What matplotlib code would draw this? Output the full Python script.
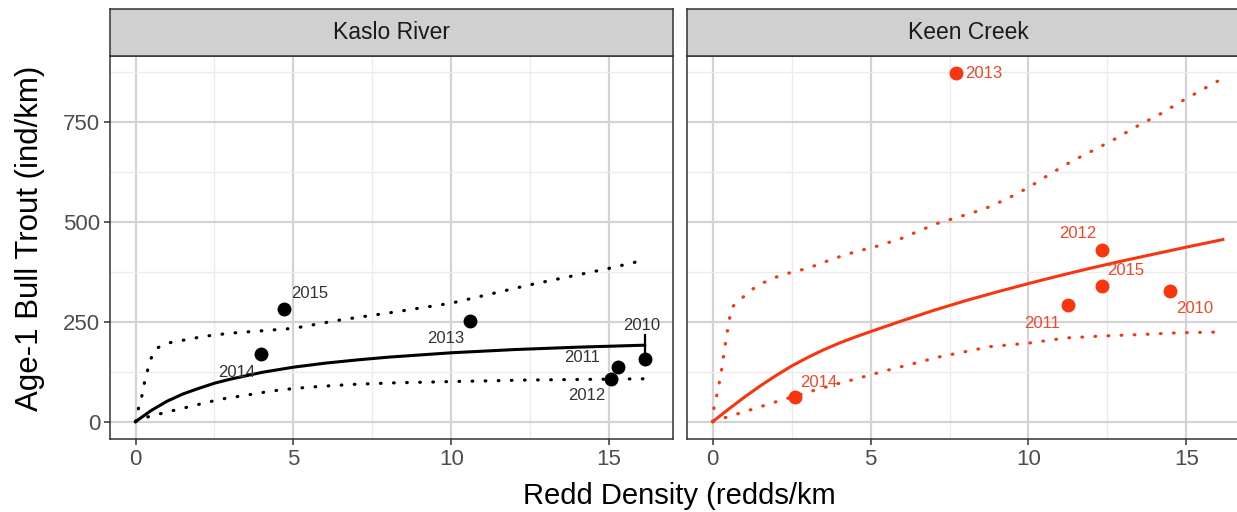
import matplotlib
matplotlib.use("Agg")
import matplotlib.pyplot as plt

plt.rcParams['font.family'] = ['Liberation Sans', 'DejaVu Sans']

# Kaslo River
kaslo_year = ['2010', '2011', '2012', '2013', '2014', '2015']
kaslo_redd = [16.13, 15.28, 15.07, 10.6, 3.96, 4.71]
kaslo_age1 = [156, 137.5, 107, 252, 168, 281]
kaslo_lab_x = [16.04, 14.16, 14.29, 9.82, 3.19, 5.51]
kaslo_lab_y = [241, 161, 64, 207.5, 122.5, 321]

kaslo_fit_x = [0, 0.5, 1, 1.5, 2, 2.5, 3, 4, 5, 6, 7, 8, 10, 12, 14, 16.13]
kaslo_fit_y = [0, 28, 51, 69, 83, 96, 106, 123, 136, 146, 154, 161, 172, 180, 186, 191]
kaslo_up_x = [0, 0.1, 0.21, 0.28, 0.38, 0.49, 0.66, 1.0, 1.42, 2.16, 3.0, 4.16, 5.0, 6.48, 8.05, 10.0, 12.5, 15.0, 16.13]
kaslo_up_y = [0, 36, 67, 97, 128, 158, 183, 196, 202, 213, 221, 228, 233, 254, 272, 296, 342, 383, 404]
kaslo_lo_x = [0, 0.42, 1.16, 1.95, 2.69, 3.51, 4.26, 5.05, 5.84, 7.0, 8.27, 10.0, 12.5, 16.13]
kaslo_lo_y = [0, 12.5, 27, 42, 56, 66, 76, 83, 88, 93.5, 97, 100, 104, 107]

# Keen Creek
keen_year = ['2010', '2011', '2012', '2013', '2014', '2015']
keen_redd = [14.49, 11.24, 12.33, 7.69, 2.59, 12.33]
keen_age1 = [326, 292.5, 429, 871, 61, 338]
keen_lab_x = [15.26, 10.44, 11.56, 8.59, 3.35, 13.09]
keen_lab_y = [282, 246, 469, 871, 98, 377.5]

keen_fit_x = [0, 0.5, 1, 1.5, 2, 2.5, 3, 3.5, 4, 4.5, 5, 6, 7, 8, 9, 10, 11, 12, 13, 14, 15, 16.16]
keen_fit_y = [0, 31, 61, 89, 115, 139, 160, 179, 196, 211, 225, 252, 278, 302, 324,
              345, 365, 384, 402, 419, 436, 455]
keen_up_x = [0, 0.04, 0.13, 0.21, 0.29, 0.39, 0.52, 0.61, 0.89, 1.18, 1.52, 1.89, 2.26, 2.63, 3.0,
             3.4, 3.77, 4.14, 4.46, 5.23, 5.98, 7.06, 7.85, 8.59, 9.33, 10.02, 10.69, 11.38,
             12.08, 12.78, 13.48, 14.18, 14.86, 15.56, 16.16]
keen_up_y = [0, 37.5, 67, 98.5, 135, 190, 254, 286, 306, 327, 344, 357.5, 368.5, 375, 383.5,
             394, 406, 415, 423, 439, 458, 494, 513, 531, 557, 586, 619, 651,
             679, 708, 740, 769, 801, 832, 858]
keen_lo_x = [0, 0.44, 1.18, 1.92, 3.08, 3.83, 4.62, 5.37, 6.48, 7.22, 8.8, 9.99, 11.18, 12.35, 13.54, 14.73, 16.16]
keen_lo_y = [0, 11, 29, 47.5, 75, 92, 108.5, 125, 147.5, 162.5, 187.5, 196, 209, 214, 217.5, 222, 224]

W, H = 1237, 512
fig = plt.figure(figsize=(W / 100, H / 100), dpi=100)

xlim = (-0.81, 17.01)
ylim = (-43.5, 914.5)
dot = (0, (0.2, 3.9))


def panel(left, title, col, lab_col, fx, fy, ux, uy, lx, ly, px, py, tx, ty, years, first):
    top, bottom, width = 55.7, 439, 562.5
    ax = fig.add_axes([left / W, 1 - bottom / H, width / W, (bottom - top) / H])
    ax.set_xlim(*xlim)
    ax.set_ylim(*ylim)
    ax.set_xticks([0, 5, 10, 15])
    ax.set_xticks([2.5, 7.5, 12.5], minor=True)
    ax.set_yticks([0, 250, 500, 750])
    ax.set_yticks([125, 375, 625, 875], minor=True)
    ax.grid(True, which='major', color='#d3d3d3', lw=1.6, zorder=0)
    ax.grid(True, which='minor', color='#ececec', lw=1.0, zorder=0)
    ax.set_axisbelow(True)
    for s in ax.spines.values():
        s.set_color('#333333')
        s.set_linewidth(1.1)
    ax.tick_params(which='minor', length=0)
    ax.tick_params(which='major', color='#333333', length=4, width=1.1,
                   labelsize=16, labelcolor='#4d4d4d', pad=3)
    if not first:
        ax.tick_params(axis='y', left=False, labelleft=False)

    ax.plot(fx, fy, color=col, lw=2.2, zorder=3)
    ax.plot(ux, uy, color=col, lw=2.3, ls=dot, dash_capstyle='round', zorder=3)
    ax.plot(lx, ly, color=col, lw=2.3, ls=dot, dash_capstyle='round', zorder=3)
    ax.plot(px, py, 'o', color=col, ms=9, zorder=4)
    for x, y, t in zip(tx, ty, years):
        ax.text(x, y, t, color=lab_col, fontsize=12, ha='center', va='center', zorder=5)

    # facet strip
    sax = fig.add_axes([left / W, 1 - top / H, width / W, (top - 9) / H])
    sax.set_xticks([])
    sax.set_yticks([])
    sax.set_facecolor('#d0d0d0')
    for s in sax.spines.values():
        s.set_color('#333333')
        s.set_linewidth(1.1)
    sax.text(0.5, 0.5, title, transform=sax.transAxes, ha='center', va='center',
             fontsize=16.5, color='#1a1a1a')
    return ax


ax1 = panel(110, 'Kaslo River', '#000000', '#333333',
            kaslo_fit_x, kaslo_fit_y, kaslo_up_x, kaslo_up_y, kaslo_lo_x, kaslo_lo_y,
            kaslo_redd, kaslo_age1, kaslo_lab_x, kaslo_lab_y, kaslo_year, True)
# repel segment for 2010 label
ax1.plot([kaslo_redd[0], kaslo_redd[0]], [216, kaslo_age1[0] + 8], color='#000000', lw=1.6, zorder=3)

ax2 = panel(687.2, 'Keen Creek', '#f8350f', '#f5452a',
            keen_fit_x, keen_fit_y, keen_up_x, keen_up_y, keen_lo_x, keen_lo_y,
            keen_redd, keen_age1, keen_lab_x, keen_lab_y, keen_year, False)

fig.text(30 / W, 1 - 238 / H, 'Age-1 Bull Trout (ind/km)', rotation=90,
         ha='center', va='center', fontsize=22.5, color='#000000')
fig.text(679 / W, 1 - 496 / H, 'Redd Density (redds/km', ha='center', va='center',
         fontsize=21, color='#000000')

fig.savefig('out.png', dpi=100, facecolor='white')
